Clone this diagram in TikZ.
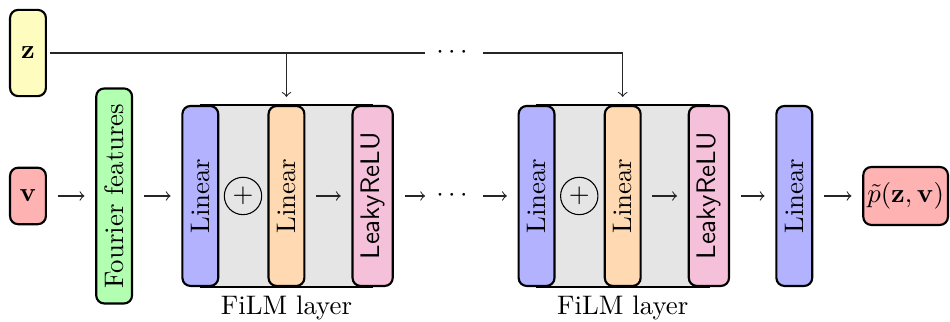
\documentclass[tikz,border=0pt]{standalone}
\usepackage{amsmath}
\usepackage{amssymb}
\usepackage{graphicx}
\usetikzlibrary{arrows, backgrounds}

\definecolor{reluPink}{RGB}{245,192,218}

\begin{document}
\begin{tikzpicture}[
            > = to, % arrow head style
            every node/.style = {inner sep = 3pt}
        ]

        \tikzstyle{block}=[
            draw = black,
            thick,
            rounded corners = 3pt,
            minimum width = 0.47cm,
            minimum height = 2.36cm
        ]
        \tikzstyle{flow}=[->, thin, black!85, shorten <= 4pt, shorten >= 4pt]

        \useasboundingbox (-0.367,-1.652) rectangle (12.092,2.570);

        \node[block, fill=yellow!25, minimum height=1.13cm] (z) at (0,1.875) {$\mathbf{z}$};
        \node[block, fill=red!30, minimum height=0.74cm] (v) at (0,0) {$\mathbf{v}$};

        \node[block, fill=green!30, minimum height=2.82cm] (ff) at (1.13,0) {\rotatebox{90}{Fourier features}};

        % first FiLM layer
        \node[block, fill=blue!30] (l1) at (2.26,0) {\rotatebox{90}{Linear}};
        \node[draw, circle, minimum size=0.49cm, inner sep=1pt] (s1) at (2.82,0) {$+$};
        \node[block, fill=orange!30] (m1) at (3.39,0) {\rotatebox{90}{Linear}};
        \node[block, fill=reluPink] (a1) at (4.52,0) {\rotatebox{90}{\textsf{LeakyReLU}}};

        \node[inner sep=0pt] (d) at (5.59,0) {$\cdots$};

        % second FiLM layer
        \node[block, fill=blue!30] (l2) at (6.67,0) {\rotatebox{90}{Linear}};
        \node[draw, circle, minimum size=0.49cm, inner sep=1pt] (s2) at (7.23,0) {$+$};
        \node[block, fill=orange!30] (m2) at (7.80,0) {\rotatebox{90}{Linear}};
        \node[block, fill=reluPink] (a2) at (8.93,0) {\rotatebox{90}{\textsf{LeakyReLU}}};

        \node[block, fill=blue!30] (lo) at (10.05,0) {\rotatebox{90}{Linear}};
        \node[block, fill=red!30, minimum height=0.76cm, minimum width=1.11cm, inner sep=1.5pt] (out) at (11.51,0) {$\tilde{p}(\mathbf{z},\mathbf{v})$};

        \begin{scope}[on background layer]
            \draw[fill=gray!20, semithick] (l1.north) rectangle (a1.south);
            \draw[fill=gray!20, semithick] (l2.north) rectangle (a2.south);
        \end{scope}

        \node[below] (f1) at (m1.south) {FiLM layer};
        \node[below] (f2) at (m2.south) {FiLM layer};

        \path[flow] (v) edge (ff);
        \path[flow] (ff) edge (l1);
        \path[flow] (m1) edge (a1);
        \path[flow] (a1) edge (d);
        \path[flow] (d) edge (l2);
        \path[flow] (m2) edge (a2);
        \path[flow] (a2) edge (lo);
        \path[flow] (lo) edge (out);

        % conditioning on z
        \node[inner sep=4pt] (zd) at (5.59,1.875) {$\cdots$};
        \coordinate (t1) at (z -| m1);
        \draw[thin, black!85, shorten <= 1pt] (z) -- (zd);
        \draw[->, thin, black!85, shorten >= 3pt] (t1) -- (m1);
        \draw[->, thin, black!85, shorten >= 3pt] (zd) -| (m2);
    \end{tikzpicture}
\end{document}
